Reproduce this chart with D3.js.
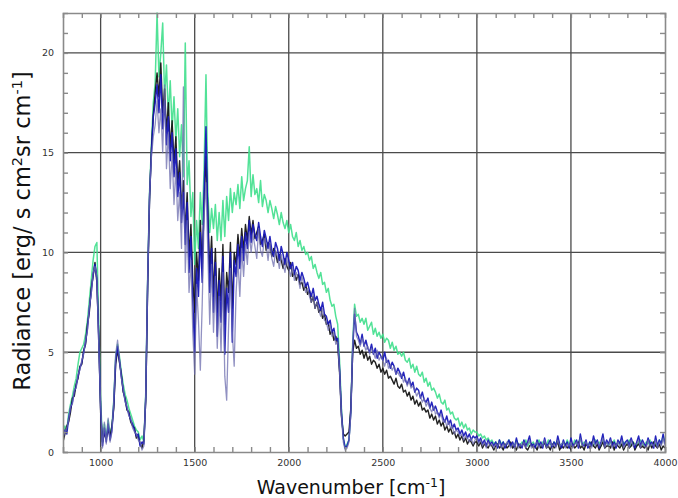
<!DOCTYPE html>
<html>
<head>
<meta charset="utf-8">
<script src="https://cdn.jsdelivr.net/npm/d3@7"></script>
<style>
  html, body { margin: 0; padding: 0; background: #fff; }
  svg { display: block; }
</style>
</head>
<body>
<svg id="chart" width="678" height="498"></svg>
<script>
// Wavenumber sampling grid of the spectra (cm^-1), 10 cm^-1 spacing
const wavenumber = d3.range(800, 4001, 10);

// Axis tick values
const xMajorTicks = [1000, 1500, 2000, 2500, 3000, 3500, 4000];
const xMinorTicks = d3.range(900, 4000, 100);
const yMajorTicks = [0, 5, 10, 15, 20];
const yMinorTicks = d3.range(1, 22, 1);

// Radiance spectra [erg/ s cm^2 sr cm^-1], one value per wavenumber
const radianceGreen = [
  0.8, 1.3, 1.1, 1.9, 2.4, 2.8, 3.3, 3.7, 4.4, 5.0,
  5.2, 5.4, 5.9, 6.6, 7.6, 8.6, 9.6, 10.3, 10.5, 6.4,
  2.6, 0.5, 1.4, 0.7, 1.6, 0.9, 1.3, 2.6, 4.8, 5.4,
  4.8, 4.0, 3.4, 2.9, 2.6, 2.2, 1.9, 1.6, 1.3, 1.1,
  1.0, 0.6, 0.8, 0.5, 3.0, 8.7, 13.0, 15.4, 17.5, 18.5,
  22.0, 18.8, 20.0, 21.5, 17.8, 19.4, 16.8, 18.6, 16.2, 17.8,
  15.6, 17.2, 14.8, 16.4, 13.8, 20.5, 13.4, 14.6, 11.8, 13.0,
  9.4, 11.6, 10.2, 13.0, 11.4, 14.2, 18.9, 13.0, 11.0, 12.2,
  11.2, 12.4, 10.6, 12.0, 10.6, 12.6, 10.8, 12.8, 11.6, 13.2,
  12.0, 13.0, 12.4, 13.4, 12.2, 13.8, 12.6, 13.2, 13.6, 15.3,
  12.8, 13.9, 12.9, 13.2, 12.5, 13.6, 12.3, 12.9, 12.6, 12.0,
  12.6, 12.2, 11.7, 12.3, 11.9, 11.4, 12.0, 11.5, 11.2, 11.6,
  11.0, 11.4, 10.8, 10.6, 11.0, 10.3, 10.6, 10.1, 10.3, 9.9,
  10.0, 9.6, 9.8, 9.2, 9.4, 9.0, 8.7, 9.0, 8.4, 8.5,
  8.0, 8.2, 7.6, 7.3, 7.4, 6.8, 6.4, 4.6, 2.2, 0.7,
  0.2, 0.4, 0.6, 2.1, 5.5, 7.4, 6.8, 6.9, 6.5, 6.7,
  6.4, 6.7, 6.1, 6.3, 6.5, 5.9, 6.2, 5.8, 6.0, 5.7,
  5.9, 5.5, 5.7, 5.6, 5.2, 5.5, 5.1, 5.3, 4.9, 5.0,
  4.8, 5.0, 4.6, 4.5, 4.7, 4.2, 4.4, 4.0, 4.3, 3.9,
  3.8, 4.0, 3.5, 3.7, 3.3, 3.5, 3.1, 3.2, 3.0, 2.7,
  2.9, 2.5, 2.4, 2.6, 2.1, 2.2, 1.9, 2.0, 1.7, 1.6,
  1.7, 1.3, 1.5, 1.2, 1.4, 1.1, 1.2, 0.9, 1.1, 1.0,
  1.0, 0.8, 0.9, 0.7, 0.8, 0.6, 0.7, 0.5, 0.6, 0.4,
  0.5, 0.3, 0.6, 0.4, 0.5, 0.3, 0.4, 0.6, 0.3, 0.4,
  0.3, 0.6, 0.4, 0.3, 0.5, 0.4, 0.6, 0.3, 0.5, 0.4,
  0.5, 0.3, 0.4, 0.6, 0.3, 0.5, 0.4, 0.3, 0.6, 0.4,
  0.3, 0.5, 0.4, 0.6, 0.3, 0.4, 0.5, 0.3, 0.6, 0.4,
  0.4, 0.3, 0.6, 0.4, 0.5, 0.7, 0.3, 0.5, 0.4, 0.3,
  0.5, 0.4, 0.3, 0.6, 0.4, 0.5, 0.3, 0.6, 0.4, 0.5,
  0.3, 0.5, 0.4, 0.6, 0.3, 0.4, 0.5, 0.3, 0.5, 0.4,
  0.4, 0.6, 0.3, 0.5, 0.4, 0.3, 0.5, 0.6, 0.4, 0.3,
  0.5, 0.4, 0.6, 0.3, 0.5, 0.4, 0.3, 0.6, 0.4, 0.8,
  0.5
];

const radianceBlack = [
  0.5, 0.9, 1.3, 1.5, 2.0, 2.7, 2.8, 3.4, 3.7, 4.3,
  4.4, 5.1, 5.4, 6.4, 7.0, 8.2, 8.8, 9.5, 8.5, 5.8,
  2.0, 0.5, 0.9, 0.7, 1.1, 0.8, 1.3, 2.2, 4.4, 5.1,
  4.5, 3.9, 3.0, 2.7, 2.1, 2.0, 1.5, 1.3, 1.2, 0.7,
  0.8, 0.4, 0.2, 0.6, 2.6, 8.3, 12.6, 15.2, 16.9, 18.0,
  19.0, 17.8, 19.5, 17.0, 18.2, 16.0, 17.5, 15.2, 16.6, 14.5,
  15.8, 13.4, 14.6, 12.2, 13.6, 11.0, 13.0, 9.8, 11.4, 8.6,
  7.0, 10.0, 8.6, 11.6, 9.2, 12.4, 14.8, 12.0, 9.0, 10.8,
  7.8, 10.2, 7.0, 9.2, 7.6, 10.4, 6.4, 9.0, 8.0, 10.5,
  7.2, 10.0, 9.4, 10.9, 9.8, 11.2, 10.1, 11.4, 10.6, 11.8,
  10.9, 11.6, 10.7, 11.0, 11.3, 10.4, 10.6, 10.9, 10.1, 10.5,
  10.4, 9.8, 10.2, 10.0, 9.5, 9.9, 9.6, 9.2, 9.7, 9.3,
  9.1, 9.5, 8.8, 9.0, 8.6, 8.9, 8.4, 8.5, 8.1, 8.4,
  7.9, 8.1, 7.5, 7.8, 7.2, 7.5, 7.0, 7.2, 6.7, 6.9,
  6.4, 6.5, 5.9, 6.1, 5.6, 5.8, 5.4, 4.0, 1.8, 0.9,
  0.8, 0.9, 1.0, 2.2, 5.0, 5.6, 5.2, 5.3, 4.9, 5.1,
  4.7, 5.0, 4.6, 4.8, 4.4, 4.6, 4.5, 4.2, 4.4, 4.0,
  4.2, 3.9, 4.1, 3.7, 3.8, 3.6, 3.4, 3.7, 3.3, 3.2,
  3.4, 3.0, 3.1, 2.8, 3.0, 2.6, 2.8, 2.4, 2.6, 2.3,
  2.5, 2.1, 2.2, 2.0, 2.1, 1.7, 1.9, 1.6, 1.8, 1.4,
  1.6, 1.3, 1.5, 1.1, 1.3, 1.0, 1.2, 0.9, 1.0, 0.7,
  0.9, 0.6, 0.8, 0.5, 0.7, 0.4, 0.6, 0.5, 0.3, 0.5,
  0.5, 0.3, 0.5, 0.2, 0.4, 0.3, 0.2, 0.4, 0.3, 0.1,
  0.3, 0.4, 0.2, 0.3, 0.1, 0.4, 0.2, 0.3, 0.5, 0.2,
  0.3, 0.1, 0.4, 0.2, 0.3, 0.5, 0.2, 0.1, 0.3, 0.4,
  0.2, 0.3, 0.1, 0.4, 0.2, 0.3, 0.5, 0.2, 0.3, 0.1,
  0.4, 0.2, 0.3, 0.5, 0.1, 0.3, 0.2, 0.4, 0.2, 0.3,
  0.1, 0.4, 0.2, 0.3, 0.5, 0.2, 0.3, 0.1, 0.4, 0.3,
  0.2, 0.5, 0.3, 0.2, 0.4, 0.1, 0.3, 0.5, 0.2, 0.3,
  0.3, 0.2, 0.5, 0.1, 0.4, 0.3, 0.2, 0.4, 0.1, 0.3,
  0.4, 0.2, 0.3, 0.5, 0.1, 0.3, 0.4, 0.2, 0.3, 0.2,
  0.3, 0.1, 0.4, 0.2, 0.5, 0.3, 0.2, 0.4, 0.1, 0.3,
  0.2
];

const radianceBlue = [
  0.7, 1.1, 0.9, 1.7, 2.2, 2.5, 3.0, 3.3, 3.8, 4.2,
  4.5, 5.0, 5.5, 6.2, 7.2, 8.0, 8.9, 9.4, 8.7, 5.6,
  2.2, 0.3, 1.2, 0.5, 1.4, 0.6, 1.1, 2.4, 4.6, 5.3,
  4.6, 3.8, 3.1, 2.6, 2.2, 1.9, 1.6, 1.4, 1.1, 0.8,
  0.9, 0.3, 0.5, 0.4, 2.8, 8.5, 12.8, 15.0, 16.8, 17.5,
  18.4, 17.0, 18.9, 16.2, 17.6, 15.4, 16.8, 14.6, 16.0, 13.8,
  15.2, 12.8, 14.0, 11.5, 13.0, 10.4, 12.5, 9.0, 10.8, 7.5,
  5.0, 9.2, 7.8, 11.0, 8.5, 13.0, 16.3, 11.5, 8.0, 10.2,
  7.0, 9.5, 5.8, 8.6, 6.5, 9.8, 4.9, 8.2, 7.0, 10.0,
  5.5, 9.6, 8.8, 10.4, 9.2, 10.8, 9.6, 11.0, 10.2, 11.6,
  10.5, 11.4, 10.9, 10.6, 11.5, 10.8, 10.3, 11.1, 10.7, 10.2,
  10.8, 10.1, 9.8, 10.5, 10.2, 9.6, 10.3, 9.9, 9.4, 10.0,
  9.6, 9.2, 9.5, 8.9, 9.3, 9.1, 8.6, 9.0, 8.7, 8.3,
  8.5, 8.1, 7.8, 8.2, 7.6, 7.8, 7.4, 7.1, 7.5, 6.9,
  6.8, 6.4, 6.6, 6.0, 6.2, 5.6, 5.7, 4.2, 2.0, 0.7,
  0.2, 0.3, 0.6, 2.0, 5.2, 6.9, 6.0, 5.8, 5.4, 5.9,
  5.3, 5.6, 5.2, 5.0, 5.4, 4.9, 5.2, 4.7, 5.0, 4.8,
  4.6, 5.0, 4.5, 4.6, 4.2, 4.5, 4.3, 3.9, 4.2, 4.0,
  3.7, 4.0, 3.6, 3.4, 3.7, 3.3, 3.5, 3.0, 3.2, 3.1,
  2.7, 3.0, 2.6, 2.5, 2.7, 2.2, 2.5, 2.1, 2.3, 2.0,
  1.8, 2.1, 1.7, 1.5, 1.8, 1.4, 1.6, 1.2, 1.4, 1.1,
  1.2, 0.9, 1.1, 0.8, 1.0, 0.7, 0.9, 0.6, 0.8, 0.7,
  0.8, 0.5, 0.7, 0.4, 0.6, 0.3, 0.6, 0.4, 0.5, 0.3,
  0.5, 0.2, 0.6, 0.3, 0.5, 0.2, 0.4, 0.6, 0.3, 0.5,
  0.2, 0.7, 0.3, 0.4, 0.2, 0.6, 0.3, 0.5, 0.8, 0.3,
  0.4, 0.2, 0.6, 0.3, 0.5, 0.2, 0.7, 0.3, 0.4, 0.6,
  0.2, 0.5, 0.3, 0.8, 0.4, 0.2, 0.6, 0.3, 0.5, 0.2,
  0.7, 0.3, 0.4, 0.6, 0.2, 0.9, 0.4, 0.3, 0.6, 0.2,
  0.5, 0.3, 0.8, 0.4, 0.6, 0.2, 0.5, 0.9, 0.3, 0.6,
  0.4, 0.7, 0.3, 0.5, 0.2, 0.6, 0.4, 0.8, 0.3, 0.5,
  0.6, 0.3, 0.7, 0.4, 0.2, 0.5, 0.8, 0.3, 0.6, 0.4,
  0.3, 0.7, 0.4, 0.5, 0.2, 0.8, 0.3, 0.6, 0.4, 0.9,
  0.4
];

const radianceSlate = [
  0.8, 1.0, 1.2, 1.6, 2.3, 2.4, 3.1, 3.2, 3.9, 4.1,
  4.6, 4.9, 5.6, 6.1, 7.3, 7.9, 9.0, 9.3, 8.8, 5.4,
  2.4, 0.2, 1.5, 0.4, 1.7, 0.5, 1.0, 2.6, 4.9, 5.6,
  4.7, 3.7, 3.2, 2.5, 2.3, 1.8, 1.7, 1.2, 1.0, 0.9,
  0.6, 0.5, 0.1, 0.3, 2.9, 8.6, 12.9, 14.8, 15.8, 16.4,
  17.6, 16.0, 17.2, 15.0, 18.4, 14.2, 16.0, 13.2, 15.0, 12.4,
  14.2, 11.6, 13.0, 10.2, 18.3, 9.0, 11.6, 8.0, 9.6, 6.0,
  3.9, 8.4, 6.6, 4.1, 7.4, 11.8, 13.5, 10.0, 6.4, 9.4,
  6.0, 8.8, 5.2, 7.8, 5.0, 9.0, 3.8, 2.6, 6.2, 9.2,
  6.0, 4.3, 8.0, 9.6, 7.8, 10.2, 8.8, 10.4, 9.4, 11.0,
  10.0, 10.9, 10.3, 9.7, 11.2, 10.1, 9.8, 10.7, 10.4, 9.6,
  10.5, 9.7, 9.3, 10.1, 9.8, 9.2, 9.9, 9.4, 9.0, 9.7,
  9.2, 8.8, 9.3, 8.6, 9.0, 8.7, 8.2, 8.8, 8.4, 8.0,
  8.2, 7.8, 7.5, 7.9, 7.2, 7.5, 7.1, 6.8, 7.2, 6.6,
  6.5, 6.1, 6.4, 5.8, 6.0, 5.4, 5.5, 4.1, 1.9, 0.5,
  0.1, 0.2, 0.5, 1.9, 5.4, 7.2, 5.8, 5.6, 5.3, 5.7,
  5.4, 5.1, 5.3, 4.9, 5.2, 5.0, 4.7, 5.1, 4.6, 4.8,
  4.6, 4.3, 4.7, 4.2, 4.4, 4.1, 4.3, 3.9, 4.0, 3.8,
  3.9, 3.5, 3.7, 3.3, 3.6, 3.2, 3.3, 3.1, 2.8, 3.0,
  2.8, 2.5, 2.7, 2.3, 2.5, 2.2, 2.0, 2.3, 1.9, 2.0,
  1.7, 1.9, 1.5, 1.6, 1.3, 1.5, 1.2, 1.3, 0.9, 1.1,
  1.0, 0.8, 0.9, 0.6, 0.8, 0.7, 0.5, 0.7, 0.4, 0.6,
  0.7, 0.4, 0.6, 0.3, 0.5, 0.2, 0.5, 0.3, 0.4, 0.2,
  0.4, 0.3, 0.5, 0.2, 0.4, 0.3, 0.5, 0.4, 0.2, 0.4,
  0.3, 0.5, 0.2, 0.4, 0.3, 0.5, 0.2, 0.4, 0.6, 0.2,
  0.3, 0.4, 0.5, 0.2, 0.4, 0.3, 0.6, 0.2, 0.3, 0.5,
  0.3, 0.4, 0.2, 0.6, 0.3, 0.4, 0.5, 0.2, 0.4, 0.3,
  0.5, 0.2, 0.4, 0.5, 0.3, 0.7, 0.3, 0.4, 0.5, 0.3,
  0.4, 0.2, 0.6, 0.3, 0.5, 0.3, 0.4, 0.7, 0.2, 0.5,
  0.3, 0.6, 0.2, 0.4, 0.3, 0.5, 0.3, 0.6, 0.2, 0.4,
  0.5, 0.2, 0.6, 0.3, 0.4, 0.4, 0.6, 0.2, 0.5, 0.3,
  0.2, 0.6, 0.3, 0.4, 0.3, 0.6, 0.2, 0.5, 0.3, 0.7,
  0.3
];

// Drawing order: first is at the bottom
const spectra = [
  { values: radianceGreen, color: "#3fdf8c", width: 1.5, opacity: 0.9 },
  { values: radianceBlack, color: "#151515", width: 1.4, opacity: 0.95 },
  { values: radianceBlue,  color: "#1818b8", width: 1.5, opacity: 0.95 },
  { values: radianceSlate, color: "#6c6cae", width: 1.3, opacity: 0.75 }
];

const W = 678, H = 498;
const plotLeft = 63, plotRight = 665, plotTop = 13, plotBottom = 452;

const svg = d3.select("#chart");
svg.append("rect").attr("width", W).attr("height", H).attr("fill", "#fff");

const x = d3.scaleLinear().domain([800, 4000]).range([plotLeft, plotRight]);
const y = d3.scaleLinear().domain([0, 22]).range([plotBottom, plotTop]);

const axisColor = "#8a8a8a";
const gridColor = "#4a4a4a";

// Major grid
const grid = svg.append("g");
grid.selectAll("line.gx")
  .data(xMajorTicks.filter(d => d < 4000))
  .join("line")
  .attr("x1", d => x(d)).attr("x2", d => x(d))
  .attr("y1", plotTop).attr("y2", plotBottom)
  .attr("stroke", gridColor).attr("stroke-width", 1.3);
grid.selectAll("line.gy")
  .data(yMajorTicks.filter(d => d > 0))
  .join("line")
  .attr("x1", plotLeft).attr("x2", plotRight)
  .attr("y1", d => y(d)).attr("y2", d => y(d))
  .attr("stroke", gridColor).attr("stroke-width", 1.3);

// Spectra
const plot = svg.append("g");
plot.append("clipPath").attr("id", "clip")
  .append("rect").attr("x", plotLeft).attr("y", plotTop - 1)
  .attr("width", plotRight - plotLeft).attr("height", plotBottom - plotTop + 1);
const line = d3.line()
  .x((d, i) => x(wavenumber[i]))
  .y(d => y(d));
const traces = plot.append("g").attr("clip-path", "url(#clip)");
spectra.forEach(s => {
  traces.append("path")
    .attr("d", line(s.values))
    .attr("fill", "none")
    .attr("stroke", s.color)
    .attr("stroke-width", s.width)
    .attr("stroke-opacity", s.opacity)
    .attr("stroke-linejoin", "round");
});

// Axes with inward ticks on all four sides
const fontFamily = "'DejaVu Sans', sans-serif";
const fmtX = d => xMajorTicks.includes(d) ? String(d) : "";
const xTickVals = xMinorTicks.concat([4000]);

const axB = svg.append("g").attr("transform", `translate(0,${plotBottom})`)
  .call(d3.axisBottom(x).tickValues(xTickVals).tickSize(-5).tickPadding(9).tickFormat(fmtX));
const axT = svg.append("g").attr("transform", `translate(0,${plotTop})`)
  .call(d3.axisTop(x).tickValues(xMinorTicks).tickSize(-5).tickFormat(""));
const axL = svg.append("g").attr("transform", `translate(${plotLeft},0)`)
  .call(d3.axisLeft(y).tickValues([0].concat(yMinorTicks)).tickSize(-5).tickPadding(9)
    .tickFormat(d => yMajorTicks.includes(d) ? String(d) : ""));
const axR = svg.append("g").attr("transform", `translate(${plotRight},0)`)
  .call(d3.axisRight(y).tickValues(yMinorTicks).tickSize(-5).tickFormat(""));

[axB, axT, axL, axR].forEach(a => {
  a.select(".domain").attr("stroke", axisColor).attr("stroke-width", 1.6);
  a.selectAll(".tick line").attr("stroke", axisColor).attr("stroke-width", 1.4);
  a.selectAll(".tick text")
    .attr("font-family", fontFamily).attr("font-size", 9.5).attr("fill", "#333");
});
axB.selectAll(".tick text").attr("dy", "0.5em");

// Axis titles
const titleFont = "'DejaVu Sans', sans-serif";
const yTitle = svg.append("text")
  .attr("transform", `translate(30,231) rotate(-90)`)
  .attr("text-anchor", "middle")
  .attr("font-family", titleFont)
  .attr("font-size", 22.5)
  .attr("fill", "#111");
yTitle.append("tspan").text("Radiance [erg/ s cm");
yTitle.append("tspan").attr("baseline-shift", "super").attr("font-size", 14.5).text("2");
yTitle.append("tspan").text("sr cm");
yTitle.append("tspan").attr("baseline-shift", "super").attr("font-size", 14.5).text("-1");
yTitle.append("tspan").text("]");

const xTitle = svg.append("text")
  .attr("x", 351)
  .attr("y", 494)
  .attr("text-anchor", "middle")
  .attr("font-family", titleFont)
  .attr("font-size", 19)
  .attr("fill", "#111");
xTitle.append("tspan").text("Wavenumber [cm");
xTitle.append("tspan").attr("baseline-shift", "super").attr("font-size", 12.5).text("-1");
xTitle.append("tspan").text("]");
</script>
</body>
</html>
